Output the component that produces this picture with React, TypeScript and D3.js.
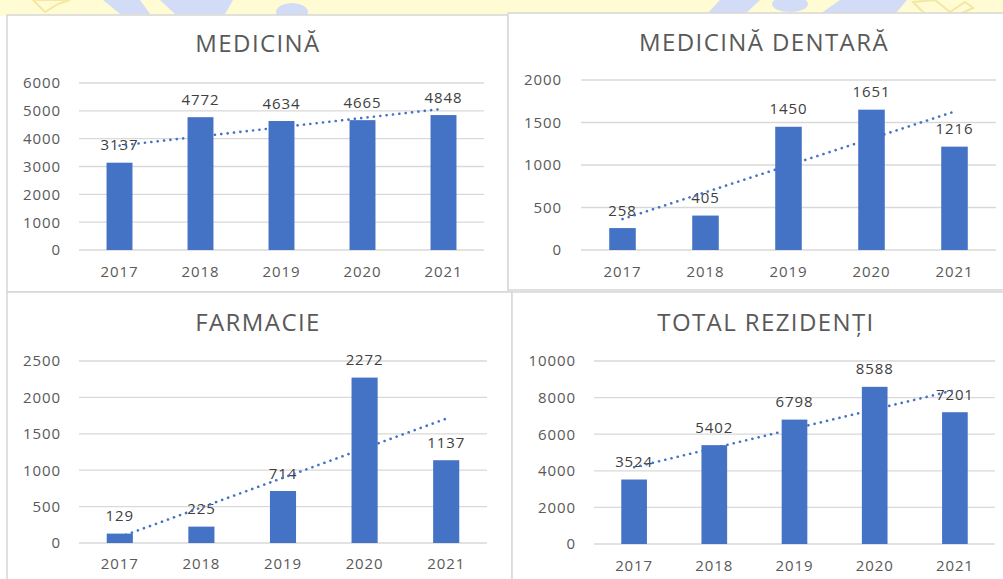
import React from "react";
import * as d3 from "d3";

const years = ["2017", "2018", "2019", "2020", "2021"];
const medicina = [3137, 4772, 4634, 4665, 4848];
const dentara = [258, 405, 1450, 1651, 1216];
const farmacie = [129, 225, 714, 2272, 1137];
const totalRezidenti = [3524, 5402, 6798, 8588, 7201];

const ticksMedicina = [0, 1000, 2000, 3000, 4000, 5000, 6000];
const ticksDentara = [0, 500, 1000, 1500, 2000];
const ticksFarmacie = [0, 500, 1000, 1500, 2000, 2500];
const ticksTotal = [0, 2000, 4000, 6000, 8000, 10000];

const titles = ["MEDICINĂ", "MEDICINĂ DENTARĂ", "FARMACIE", "TOTAL REZIDENȚI"];

const BAR = "#4472c4";
const GRID = "#d9d9d9";
const TEXT = "#595959";
const LABEL = "#404040";
const FONT = "'Open Sans', 'Noto Sans', sans-serif";

type Layout = {
  box: [number, number, number, number];
  x0: number;
  x1: number;
  yTop: number;
  yBottom: number;
  titleX: number;
  titleY: number;
  tickX: number;
  xLabelY: number;
};

const layouts: Layout[] = [
  { box: [7, 15, 501, 277], x0: 79, x1: 484, yTop: 83, yBottom: 250, titleX: 258, titleY: 52, tickX: 61, xLabelY: 277 },
  { box: [508, 13, 500, 277], x0: 581, x1: 996, yTop: 80, yBottom: 250, titleX: 764, titleY: 51, tickX: 562, xLabelY: 277 },
  { box: [7, 292, 505, 300], x0: 79, x1: 487, yTop: 361, yBottom: 543, titleX: 258, titleY: 331, tickX: 61, xLabelY: 569 },
  { box: [512, 292, 500, 300], x0: 594, x1: 995, yTop: 361, yBottom: 544, titleX: 766, titleY: 331, tickX: 576, xLabelY: 571 },
];

function Panel({ title, values, ticks, L }: { title: string; values: number[]; ticks: number[]; L: Layout }) {
  const x = d3.scaleBand<string>().domain(years).range([L.x0, L.x1]).paddingInner(0.68).paddingOuter(0.34);
  const y = d3.scaleLinear().domain([0, ticks[ticks.length - 1]]).range([L.yBottom, L.yTop]);
  // linear trend (least squares)
  const idx = values.map((_, i) => i);
  const mx = d3.mean(idx) as number;
  const my = d3.mean(values) as number;
  const slope =
    d3.sum(idx.map((i) => (i - mx) * (values[i] - my))) / d3.sum(idx.map((i) => (i - mx) * (i - mx)));
  const trend = idx.map((i) => my + slope * (i - mx));
  const line = d3
    .line<number>()
    .x((_, i) => (x(years[i]) as number) + x.bandwidth() / 2)
    .y((v) => y(v));
  const [bx, by, bw, bh] = L.box;
  return (
    <g>
      <rect x={bx} y={by} width={bw} height={bh} fill="#fff" stroke={GRID} strokeWidth={1.6} />
      <text x={L.titleX} y={L.titleY} textAnchor="middle" fontSize={24} letterSpacing={1.4} fill={TEXT} fontFamily={FONT}>
        {title}
      </text>
      {ticks.map((t) => (
        <g key={t}>
          <line x1={L.x0} x2={L.x1} y1={y(t)} y2={y(t)} stroke={GRID} strokeWidth={1.3} />
          <text x={L.tickX} y={y(t)} dy="0.36em" textAnchor="end" fontSize={15} letterSpacing={0.9} fill={TEXT} fontFamily={FONT}>
            {t}
          </text>
        </g>
      ))}
      {values.map((v, i) => (
        <rect key={i} x={x(years[i])} y={y(v)} width={x.bandwidth()} height={y(0) - y(v)} fill={BAR} />
      ))}
      {years.map((yr) => (
        <text key={yr} x={(x(yr) as number) + x.bandwidth() / 2} y={L.xLabelY} textAnchor="middle" fontSize={15} letterSpacing={0.9} fill={TEXT} fontFamily={FONT}>
          {yr}
        </text>
      ))}
      {values.map((v, i) => (
        <text key={"l" + i} x={(x(years[i]) as number) + x.bandwidth() / 2} y={y(v) - 12.5} textAnchor="middle" fontSize={15} letterSpacing={0.9} fill={LABEL} fontFamily={FONT}>
          {v}
        </text>
      ))}
      <path d={line(trend) || ""} fill="none" stroke={BAR} strokeWidth={2.6} strokeDasharray="0.1 6.3" strokeLinecap="round" />
    </g>
  );
}

export default function App() {
  const datasets = [medicina, dentara, farmacie, totalRezidenti];
  const tickSets = [ticksMedicina, ticksDentara, ticksFarmacie, ticksTotal];
  return (
    <svg width={1003} height={579} style={{ position: "absolute", left: 0, top: 0, background: "#fff" }}>
      <rect x={0} y={0} width={1003} height={16} fill="#fffbd3" />
      <path d="M33,0 L45,12 L58,4 L70,0 Z" fill="none" stroke="#f5e9a0" strokeWidth={2} />
      <path d="M103,0 H140 L150,14 H120 Z" fill="#d3dcf6" />
      <path d="M160,0 H233 L225,14 H175 Z" fill="#d3dcf6" />
      <ellipse cx={292} cy={12} rx={16} ry={9} fill="#d3dcf6" />
      <path d="M707,14 L720,0 H760 L745,14 Z" fill="#d3dcf6" />
      <ellipse cx={790} cy={4} rx={18} ry={8} fill="#d3dcf6" />
      <path d="M820,14 L840,0 H907 L895,14 Z" fill="#d3dcf6" />
      <path d="M913,2 L935,0 L950,12 L965,2 L973,8 L960,14 H925 Z" fill="none" stroke="#f3e7a2" strokeWidth={2} />
      {layouts.map((L, k) => (
        <Panel key={k} title={titles[k]} values={datasets[k]} ticks={tickSets[k]} L={L} />
      ))}
    </svg>
  );
}
